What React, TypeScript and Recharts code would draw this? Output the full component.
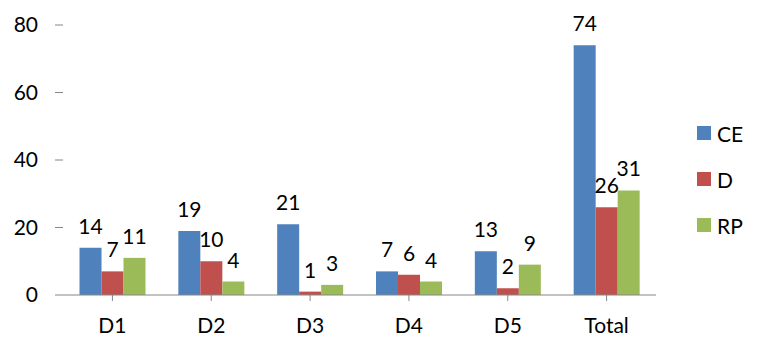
import { BarChart, Bar, XAxis, YAxis, Legend, LabelList } from "recharts";

const categories = ["D1", "D2", "D3", "D4", "D5", "Total"];
const ce = [14, 19, 21, 7, 13, 74];
const d = [7, 10, 1, 6, 2, 26];
const rp = [11, 4, 3, 4, 9, 31];
const yTicks = [0, 20, 40, 60, 80];

const series = [
  { key: "CE", color: "#4F81BD" },
  { key: "D", color: "#C0504D" },
  { key: "RP", color: "#9BBB59" },
];

const data = categories.map((c, i) => ({ name: c, CE: ce[i], D: d[i], RP: rp[i] }));

const FONT = "Lato, 'Open Sans', sans-serif";
const AXIS = "#868686";

// etiqueta por encima de la barra, como el "extremo externo" de Excel
function TopLabel(props: any) {
  const { x, y, width, value } = props;
  return (
    <text
      x={Number(x) + Number(width) / 2}
      y={Number(y) - 14}
      textAnchor="middle"
      fontSize={21}
      fontFamily={FONT}
      fill="#000"
    >
      {value}
    </text>
  );
}

function LegendBox() {
  return (
    <div style={{ fontFamily: FONT, fontSize: 21, color: "#000" }}>
      {series.map((s) => (
        <div key={s.key} style={{ display: "flex", alignItems: "center", height: 46 }}>
          <span style={{ width: 14, height: 14, background: s.color, display: "inline-block", marginRight: 6 }} />
          <span>{s.key}</span>
        </div>
      ))}
    </div>
  );
}

export default function App() {
  return (
    <div style={{ width: 754, height: 336, background: "#fff" }}>
      <BarChart
        width={754}
        height={336}
        data={data}
        margin={{ top: 17, right: 106, left: 0, bottom: 9 }}
        barCategoryGap="16.7%"
        barGap={0}
      >
        <XAxis
          dataKey="name"
          height={40}
          stroke={AXIS}
          tickSize={6}
          tickMargin={17}
          tick={{ fill: "#000", fontSize: 21, fontFamily: FONT }}
        />
        <YAxis
          width={55}
          domain={[0, 80]}
          ticks={yTicks}
          axisLine={false}
          tickSize={8}
          tickMargin={17}
          tickLine={{ stroke: AXIS }}
          tick={{ fill: "#000", fontSize: 21, fontFamily: FONT }}
        />
        <Legend
          layout="vertical"
          align="center"
          verticalAlign="middle"
          content={<LegendBox />}
          wrapperStyle={{ left: 689, top: 102, width: 70 }}
        />
        {series.map((s) => (
          <Bar key={s.key} dataKey={s.key} fill={s.color} isAnimationActive={false}>
            <LabelList dataKey={s.key} content={<TopLabel />} />
          </Bar>
        ))}
      </BarChart>
    </div>
  );
}
